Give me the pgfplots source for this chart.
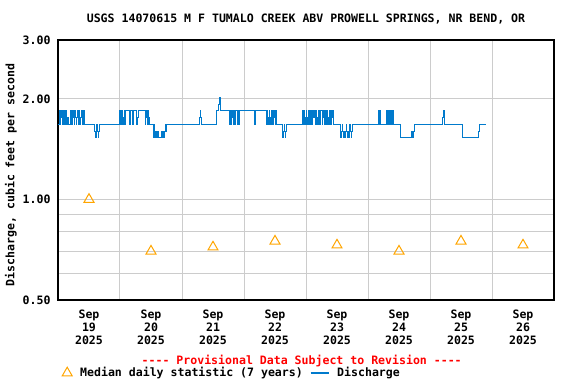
\documentclass[border=0pt]{standalone}
\usepackage{pgfplots}
\pgfplotsset{compat=1.18}
\usepackage{pgfplotstable}
\usepackage{fontspec}
\setmonofont{DejaVu Sans Mono}
\definecolor{qblue}{RGB}{0,122,204}
\definecolor{qorange}{RGB}{255,165,0}
\definecolor{qgrid}{RGB}{204,204,204}
\newcommand{\qf}{\ttfamily\fontsize{11.6}{13}\selectfont\bfseries}
\pgfplotstableread{
t v
0 1.68
0.5 1.85
0.75 1.68
1.0 1.85
1.25 1.76
1.5 1.85
1.75 1.68
2.0 1.85
2.5 1.68
2.75 1.76
3.0 1.85
3.25 1.68
3.5 1.76
3.75 1.68
4.0 1.76
4.25 1.68
4.75 1.85
5.25 1.68
5.5 1.85
5.75 1.76
6.0 1.85
6.25 1.68
6.5 1.85
6.75 1.76
7.0 1.68
7.25 1.76
7.5 1.85
7.75 1.68
8.0 1.76
8.25 1.85
8.5 1.68
8.75 1.76
9.0 1.85
9.5 1.68
9.75 1.85
10.25 1.68
14.25 1.60
14.5 1.53
14.75 1.60
15.0 1.68
15.25 1.60
15.5 1.53
15.75 1.60
16.0 1.68
24.0 1.85
24.25 1.68
24.5 1.76
24.75 1.85
25.0 1.68
25.25 1.76
25.5 1.68
25.75 1.85
26.0 1.68
26.25 1.85
27.75 1.68
28.0 1.85
29.0 1.68
29.25 1.85
30.5 1.68
30.75 1.76
31.0 1.85
33.75 1.68
34.0 1.85
34.25 1.76
34.5 1.68
34.75 1.85
35.0 1.68
35.25 1.76
35.5 1.68
37.0 1.53
37.25 1.68
37.5 1.60
37.75 1.53
38.0 1.60
38.25 1.53
38.5 1.60
38.75 1.53
40.25 1.60
40.5 1.53
40.75 1.60
41.0 1.53
41.25 1.60
41.5 1.68
41.75 1.60
42.0 1.68
54.75 1.76
55.0 1.85
55.25 1.76
55.5 1.68
61.5 1.85
62.25 1.93
62.5 2.02
62.75 1.93
63.0 1.85
66.5 1.68
66.75 1.85
67.0 1.68
67.25 1.85
67.5 1.76
67.75 1.68
68.0 1.85
68.5 1.68
68.75 1.85
69.5 1.68
69.75 1.85
70.0 1.68
70.25 1.85
76.25 1.68
76.5 1.85
80.75 1.68
81.0 1.85
81.25 1.76
81.5 1.68
81.75 1.85
82.0 1.68
82.25 1.76
82.5 1.85
82.75 1.68
83.0 1.85
83.25 1.68
83.5 1.76
83.75 1.85
84.0 1.68
84.25 1.85
84.75 1.68
86.75 1.60
87.0 1.53
87.25 1.60
87.5 1.68
87.75 1.60
88.0 1.53
88.25 1.60
88.5 1.68
94.5 1.85
94.75 1.68
95.0 1.85
95.25 1.76
95.5 1.68
95.75 1.76
96.0 1.85
96.25 1.68
96.5 1.76
96.75 1.68
97.0 1.85
97.25 1.76
97.5 1.68
97.75 1.85
98.25 1.68
98.5 1.85
99.0 1.76
99.25 1.85
99.75 1.68
100.0 1.85
100.25 1.76
100.5 1.68
100.75 1.76
101.0 1.85
101.25 1.68
101.5 1.76
101.75 1.85
102.25 1.68
102.5 1.85
102.75 1.76
103.0 1.85
103.25 1.68
103.5 1.85
104.0 1.68
104.25 1.85
104.5 1.76
104.75 1.68
105.0 1.85
105.25 1.68
105.5 1.85
105.75 1.68
106.0 1.76
106.25 1.85
106.5 1.68
109.25 1.60
109.5 1.53
109.75 1.60
110.0 1.68
110.25 1.60
110.5 1.53
110.75 1.60
111.0 1.53
111.25 1.60
111.5 1.68
111.75 1.60
112.0 1.53
112.25 1.60
112.5 1.53
112.75 1.60
113.0 1.68
113.25 1.60
113.5 1.53
113.75 1.60
114.0 1.68
124.25 1.85
124.5 1.68
124.75 1.85
125.0 1.68
127.0 1.76
127.25 1.85
127.5 1.68
127.75 1.85
128.0 1.76
128.25 1.85
128.5 1.68
128.75 1.85
129.0 1.76
129.25 1.68
129.5 1.85
129.75 1.68
132.5 1.53
137.0 1.60
137.25 1.53
137.5 1.60
138.0 1.68
149.0 1.76
149.25 1.85
149.5 1.68
156.5 1.53
162.75 1.60
163.0 1.68
165.5 1.68
}\discharge
\pgfplotstableread{
t v
12 1.00
36 0.70
60 0.72
84 0.75
108 0.73
132 0.70
156 0.75
180 0.73
}\median
\begin{document}
\begin{tikzpicture}
\path[use as bounding box] (-58bp,-84bp) rectangle (518bp,300bp);
\begin{axis}[
  scale only axis, width=496bp, height=260bp,
  xmin=0, xmax=192, ymode=log, ymin=0.5, ymax=3,
  xtick={12,36,60,84,108,132,156,180},
  xticklabels={{Sep\\19\\2025},{Sep\\20\\2025},{Sep\\21\\2025},{Sep\\22\\2025},{Sep\\23\\2025},{Sep\\24\\2025},{Sep\\25\\2025},{Sep\\26\\2025}},
  minor xtick={24,48,72,96,120,144,168},
  ytick={0.5,1,2,3}, yticklabels={0.50,1.00,2.00,3.00},
  minor ytick={0.6,0.7,0.8,0.9},
  xminorgrids=true, ymajorgrids=true, yminorgrids=true,
  grid style={qgrid, line width=1bp},
  minor grid style={qgrid, line width=1bp},
  major tick length=0pt, minor tick length=0pt,
  axis line style={line width=1.2bp, black},
  xticklabel style={align=center, font=\qf, yshift=-6bp},
  yticklabel style={font=\qf, xshift=-4bp},
  legend style={at={(axis description cs:0,0)}, anchor=west, xshift=4bp, yshift=-73bp,
    draw=none, fill=none, font=\qf, inner sep=0pt, legend columns=2,
    /tikz/every odd column/.append style={column sep=6bp},
    /tikz/every even column/.append style={column sep=5bp}},
  legend cell align=left,
]
\addplot[only marks, mark=triangle, mark size=5.8pt, qorange, mark options={line width=1bp},
  legend image code/.code={\draw[mark repeat=2,mark phase=2] plot coordinates {(0bp,0bp)(7bp,0bp)(14bp,0bp)};}]
  table[x=t,y=v] {\median};
\addlegendentry{Median daily statistic (7 years)}
\addplot[const plot, qblue, line width=1bp,
  legend image code/.code={\draw[draw=qblue, line width=1.4bp] (0bp,0bp) -- (18bp,0bp);}]
  table[x=t,y=v] {\discharge};
\addlegendentry{Discharge}
\end{axis}
\node[font=\qf] at (248bp,281bp) {USGS 14070615 M F TUMALO CREEK ABV PROWELL SPRINGS, NR BEND, OR};
\node[font=\qf, rotate=90] at (-47bp,125bp) {Discharge, cubic feet per second};
\node[font=\qf, text=red] at (243.7bp,-61bp) {---- Provisional Data Subject to Revision ----};
\end{tikzpicture}
\end{document}
